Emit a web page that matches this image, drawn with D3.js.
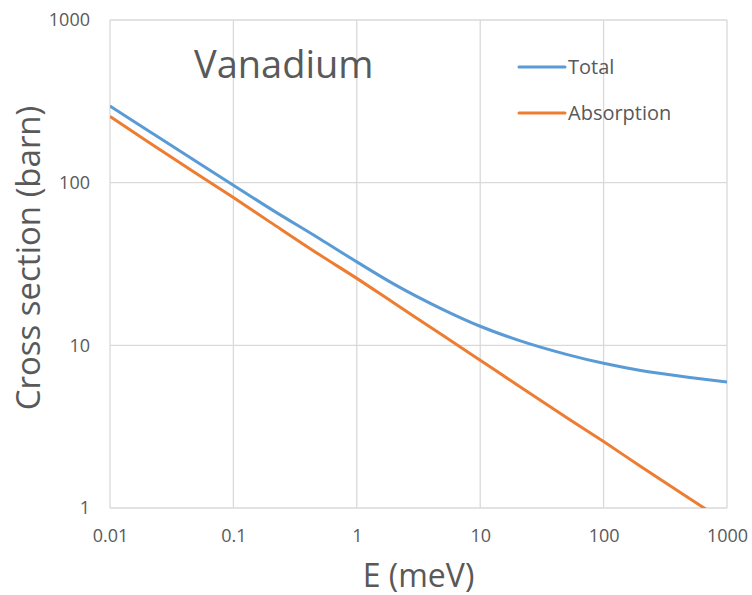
<!DOCTYPE html>
<html>
<head>
<meta charset="utf-8">
<script src="https://cdn.jsdelivr.net/npm/d3@7"></script>
<style>
  body { margin: 0; background: #fff; }
  svg { font-family: "Open Sans", "Noto Sans", sans-serif; }
</style>
</head>
<body>
<div id="chart"></div>
<script>
// energies (meV) and cross sections (barn)
var energy = [0.01, 0.02, 0.05, 0.1, 0.2, 0.5, 1, 2, 5, 10, 20, 50, 100, 200, 500, 1000];
var totalXs = [296, 211, 135, 96.5, 69, 45.2, 32.6, 23.8, 16.6, 13.1, 10.8, 8.8, 7.75, 7.0, 6.35, 5.95];
var absorptionXs = [255, 180, 114, 81, 57, 36, 25.8, 18.2, 11.5, 8.1, 5.7, 3.6, 2.56, 1.8, 1.14, 0.81];
var seriesNames = ['Total', 'Absorption'];
var xTicks = [0.01, 0.1, 1, 10, 100, 1000];
var xTickLabels = ['0.01', '0.1', '1', '10', '100', '1000'];
var yTicks = [1, 10, 100, 1000];
var yTickLabels = ['1', '10', '100', '1000'];

var width = 752, height = 595;
var plotLeft = 110, plotRight = 727, plotTop = 20, plotBottom = 508;
var textColor = '#595959';
var gridColor = '#d9d9d9';
var colors = ['#5b9bd5', '#ed7d31'];

var svg = d3.select('#chart').append('svg')
    .attr('width', width)
    .attr('height', height);

var x = d3.scaleLog().domain([0.01, 1000]).range([plotLeft, plotRight]);
var y = d3.scaleLog().domain([1, 1000]).range([plotBottom, plotTop]);

svg.append('defs').append('clipPath').attr('id', 'plot')
    .append('rect')
    .attr('x', plotLeft).attr('y', plotTop)
    .attr('width', plotRight - plotLeft).attr('height', plotBottom - plotTop);

// gridlines
var grid = svg.append('g').attr('stroke', gridColor).attr('stroke-width', 1.3);
grid.selectAll('.vx').data(xTicks).enter().append('line')
    .attr('x1', function (d) { return x(d); })
    .attr('x2', function (d) { return x(d); })
    .attr('y1', plotTop).attr('y2', plotBottom);
grid.selectAll('.hy').data(yTicks).enter().append('line')
    .attr('x1', plotLeft).attr('x2', plotRight)
    .attr('y1', function (d) { return y(d); })
    .attr('y2', function (d) { return y(d); });

// axes, labels only
var xAxis = svg.append('g')
    .attr('transform', 'translate(0,' + (plotBottom + 14) + ')')
    .call(d3.axisBottom(x).tickValues(xTicks).tickSize(0)
        .tickFormat(function (d, i) { return xTickLabels[i]; }));
var yAxis = svg.append('g')
    .attr('transform', 'translate(' + (plotLeft - 20) + ',0)')
    .call(d3.axisLeft(y).tickValues(yTicks).tickSize(0).tickPadding(0)
        .tickFormat(function (d, i) { return yTickLabels[i]; }));
[xAxis, yAxis].forEach(function (a) {
    a.select('.domain').remove();
    a.selectAll('text')
        .attr('fill', textColor)
        .style('font-size', '18px')
        .style('font-family', '"Open Sans", sans-serif');
});
xAxis.selectAll('text').attr('dy', '0.95em');

// series
var lineGen = d3.line()
    .x(function (d) { return x(d[0]); })
    .y(function (d) { return y(d[1]); })
    .curve(d3.curveMonotoneX);
var series = [totalXs, absorptionXs];
svg.append('g').attr('clip-path', 'url(#plot)')
    .selectAll('path').data(series).enter().append('path')
    .attr('d', function (vals) { return lineGen(d3.zip(energy, vals)); })
    .attr('fill', 'none')
    .attr('stroke', function (d, i) { return colors[i]; })
    .attr('stroke-width', 3);

// legend
var legend = svg.append('g');
seriesNames.forEach(function (name, i) {
    var ly = 67 + i * 46;
    legend.append('line')
        .attr('x1', 519).attr('x2', 565)
        .attr('y1', ly).attr('y2', ly)
        .attr('stroke', colors[i])
        .attr('stroke-width', 3)
        .attr('stroke-linecap', 'round');
    legend.append('text')
        .attr('x', 568).attr('y', ly)
        .attr('dy', '0.35em')
        .attr('fill', textColor)
        .style('font-size', '20px')
        .text(name);
});

svg.append('text')
    .attr('x', 194).attr('y', 78)
    .attr('fill', textColor)
    .style('font-size', '38px')
    .text('Vanadium');

svg.append('text')
    .attr('x', (plotLeft + plotRight) / 2).attr('y', 587)
    .attr('text-anchor', 'middle')
    .attr('fill', textColor)
    .style('font-size', '32px')
    .text('E (meV)');

svg.append('text')
    .attr('transform', 'translate(40,' + ((plotTop + plotBottom) / 2 - 6) + ') rotate(-90)')
    .attr('text-anchor', 'middle')
    .attr('fill', textColor)
    .style('font-size', '33px')
    .text('Cross section (barn)');
</script>
</body>
</html>
